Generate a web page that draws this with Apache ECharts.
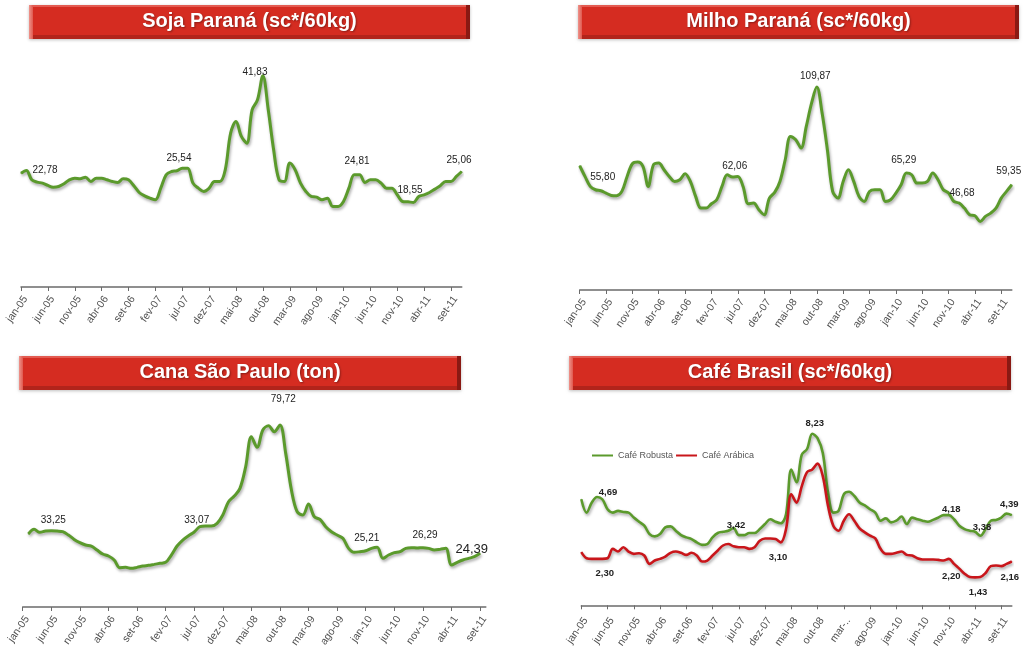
<!DOCTYPE html>
<html>
<head>
<meta charset="utf-8">
<script src="https://cdn.jsdelivr.net/npm/echarts@6/dist/echarts.min.js"></script>
<style>
html,body{margin:0;padding:0;background:#fff;}
#c{width:1026px;height:651px;}
</style>
</head>
<body>
<div id="c"></div>
<script>
const months = [
 'jan-05','fev-05','mar-05','abr-05','mai-05','jun-05','jul-05','ago-05','set-05','out-05','nov-05','dez-05',
 'jan-06','fev-06','mar-06','abr-06','mai-06','jun-06','jul-06','ago-06','set-06','out-06','nov-06','dez-06',
 'jan-07','fev-07','mar-07','abr-07','mai-07','jun-07','jul-07','ago-07','set-07','out-07','nov-07','dez-07',
 'jan-08','fev-08','mar-08','abr-08','mai-08','jun-08','jul-08','ago-08','set-08','out-08','nov-08','dez-08',
 'jan-09','fev-09','mar-09','abr-09','mai-09','jun-09','jul-09','ago-09','set-09','out-09','nov-09','dez-09',
 'jan-10','fev-10','mar-10','abr-10','mai-10','jun-10','jul-10','ago-10','set-10','out-10','nov-10','dez-10',
 'jan-11','fev-11','mar-11','abr-11','mai-11','jun-11','jul-11','ago-11','set-11','out-11','nov-11'
];
const canaMonths = months.slice(0, 82);

const sojaValues = [
 23.79,24.29,22.56,22.13,21.94,21.51,21.20,21.32,21.82,22.56,22.87,22.74,
 23.05,22.25,22.87,22.87,22.56,22.25,22.07,22.74,22.56,21.45,20.21,19.59,
 19.16,18.85,21.01,23.48,24.10,24.23,24.72,24.72,21.94,21.01,20.40,21.01,
 22.25,22.25,24.41,31.21,33.37,30.59,29.35,35.53,37.38,41.83,35.53,28.12,
 22.56,22.25,25.65,24.41,21.94,20.40,19.47,19.35,18.85,19.16,17.62,17.62,
 18.54,21.01,23.48,23.48,22.07,22.56,22.56,21.94,21.01,21.01,19.78,18.54,
 18.48,18.36,19.47,19.78,20.21,20.83,21.45,22.25,22.25,23.18,24.10
];
const milhoValues = [
 68.83,63.26,58.04,56.31,55.78,54.57,53.35,53.17,55.44,63.26,69.87,70.74,
 68.48,58.04,69.35,70.22,66.74,63.26,60.65,61.52,64.65,60.65,52.83,46.74,
 46.74,49.00,51.09,58.04,64.13,62.91,63.26,58.04,49.00,49.35,45.87,43.26,
 51.96,54.91,60.65,71.96,84.13,82.39,78.04,89.35,101.52,109.87,96.30,77.17,
 55.44,51.96,60.65,66.74,60.65,52.83,50.22,55.44,56.31,56.31,50.22,51.09,
 54.57,58.91,65.00,64.13,59.78,59.78,60.65,65.00,61.52,56.31,54.57,50.22,
 49.35,46.74,43.26,42.74,39.78,42.39,44.13,46.74,51.96,55.44,58.91
];
const canaValues = [
 null,32.33,34.36,33.05,33.63,33.78,33.63,33.34,31.89,30.00,28.56,27.55,
 27.11,25.37,23.63,22.76,21.03,17.69,17.84,17.40,17.84,18.42,18.71,19.14,
 19.58,20.01,23.20,27.11,29.72,31.60,33.20,35.52,35.81,35.81,36.97,40.59,
 46.39,48.85,52.19,61.60,74.65,70.01,77.55,79.40,76.82,79.72,67.40,51.46,
 42.04,40.59,45.37,39.86,38.71,35.52,33.34,31.89,30.45,26.10,24.36,24.65,
 25.08,26.10,26.53,21.75,23.20,24.22,24.65,26.10,26.39,26.24,26.39,26.10,
 25.37,25.66,26.10,18.85,20.01,21.03,21.75,22.47,23.92,null
];
const cafeRobusta = [
 5.09,4.45,4.93,5.20,5.09,4.61,4.45,4.53,4.48,4.45,4.21,4.01,
 3.82,3.42,3.31,3.42,3.74,3.79,3.58,3.37,3.26,3.18,3.02,2.90,
 2.94,3.26,3.47,3.53,3.58,3.71,3.37,3.37,3.47,3.47,3.66,3.90,
 4.13,4.01,3.94,4.37,6.52,5.91,7.23,7.50,8.23,8.02,7.31,5.40,
 4.45,4.53,5.33,5.45,5.25,4.93,4.80,4.61,4.45,4.06,4.17,3.98,
 4.06,4.26,3.90,4.21,4.13,4.06,4.01,4.10,4.21,4.33,4.33,4.13,
 3.82,3.66,3.58,3.53,3.34,3.66,4.06,4.10,4.21,4.40,4.33
];
const cafeArabica = [
 2.55,2.26,2.23,2.23,2.23,2.26,2.71,2.58,2.79,2.58,2.47,2.50,
 2.39,1.99,2.15,2.23,2.34,2.52,2.58,2.52,2.42,2.52,2.39,2.10,
 2.15,2.39,2.63,2.87,2.94,2.83,2.79,2.79,2.71,2.79,3.10,3.21,
 3.21,3.18,3.02,3.66,5.33,4.93,5.72,6.39,6.52,6.80,6.20,4.77,
 3.82,3.58,4.06,4.37,4.06,3.69,3.50,3.34,3.21,2.71,2.47,2.47,
 2.52,2.58,2.42,2.39,2.26,2.20,2.20,2.20,2.18,2.15,2.23,1.99,
 1.76,1.52,1.36,1.34,1.36,1.55,1.88,1.91,1.88,1.99,2.10
];

const sojaLabels = [{i:4,text:'22,78'},{i:29,text:'25,54'},{i:45,text:'41,83'},{i:62,text:'24,81'},{i:72,text:'18,55'},{i:82,text:'25,06'}];
const milhoLabels = [{i:4,text:'55,80'},{i:29,text:'62,06'},{i:45,text:'109,87'},{i:62,text:'65,29'},{i:72,text:'46,68'},{i:82,text:'59,35'}];
const canaLabels = [{i:5,text:'33,25'},{i:30,text:'33,07'},{i:45,text:'79,72'},{i:60,text:'25,21'},{i:70,text:'26,29'},{i:79,text:'24,39'}];
const robustaLabels = [{i:5,text:'4,69'},{i:29,text:'3,42'},{i:44,text:'8,23'},{i:70,text:'4,18'},{i:76,text:'3,38'},{i:82,text:'4,39'}];
const arabicaLabels = [{i:4,text:'2,30'},{i:37,text:'3,10'},{i:70,text:'2,20'},{i:75,text:'1,43'},{i:82,text:'2,16'}];

const titles = ['Soja Paraná (sc*/60kg)','Milho Paraná (sc*/60kg)','Cana São Paulo (ton)','Café Brasil (sc*/60kg)'];
const legendNames = ['Café Robusta','Café Arábica'];

// styling: label offsets (px) relative to the labelled point
const sojaOff = [[2.5,-7.2],[2.1,-6.8],[-7.9,2.2],[2.75,-7.8],[2,-6.5],[-2.75,-5.5]];
const milhoOff = [[1.9,-7.8],[2.2,-5.1],[-1.5,-5.1],[-2.7,-7.1],[2.9,-4.1],[-3.1,-7.8]];
const canaOff = [[2,-5.4],[2.5,-6.7],[3.3,-20],[1,-7.4],[2.1,-7],[-2.6,0]];
const robOff = [[0.5,-11.7],[2.4,2.4],[2.4,-5],[2.5,0.1],[1.7,-3],[-2.5,-4.9]];
const araOff = [[2.4,20.3],[2.45,23.6],[2.5,22.7],[2.95,20.6],[-2.1,20.95]];

const FONT = '"Liberation Sans", Arial, sans-serif';
const GREEN = '#5b9a2c';
const RED = '#c9161b';

function buildData(values, labels, offs, fontSize, bold) {
  const map = {};
  labels.forEach((l, k) => { map[l.i] = {text: l.text, off: offs[k]}; });
  return values.map((v, i) => {
    if (map[i]) {
      return {
        value: v,
        label: {
          show: true, position: 'top', distance: 0,
          formatter: map[i].text, offset: map[i].off,
          fontSize: (labels[labels.length-1].i === i && fontSize.last) ? fontSize.last : fontSize.base,
          fontFamily: FONT, color: '#222', fontWeight: bold ? 'bold' : 'normal'
        }
      };
    }
    return v;
  });
}

const grids = [
  {left: 21, top: 49.5, width: 440.75, height: 237.5},
  {left: 579.7, top: 48.5, width: 432.1, height: 241.5},
  {left: 22.7, top: 401.4, width: 463.1, height: 205.6},
  {left: 581.3, top: 407.35, width: 430.5, height: 202.65}
];
const yRanges = [[2.7, 46.7],[4, 130],[0.6, 90],[-0.15, 9.5]];

function xAxis(idx, data, fmt) {
  return {
    type: 'category', gridIndex: idx, data: data, boundaryGap: false,
    axisLine: {lineStyle: {color: '#6b6b6b', width: 1.5}},
    axisTick: {show: true, interval: 4, length: 4, lineStyle: {color: '#6b6b6b', width: 1}},
    axisLabel: {interval: 4, rotate: 55, fontSize: 10.5, color: '#505050', margin: 7, fontFamily: FONT,
      verticalAlign: 'top', formatter: fmt || (v => v)},
    splitLine: {show: false}
  };
}
function yAxis(idx) {
  return {type: 'value', gridIndex: idx, min: yRanges[idx][0], max: yRanges[idx][1], show: false, splitLine: {show: false}};
}

const lineShadow = {shadowColor: 'rgba(0,0,0,0.35)', shadowBlur: 3, shadowOffsetY: 2, shadowOffsetX: 1};

function lineSeries(name, idx, data, color, width) {
  return {
    name: name, type: 'line', xAxisIndex: idx, yAxisIndex: idx, data: data,
    smooth: 0.35, symbol: 'circle', symbolSize: 1, showSymbol: true, showAllSymbol: true,
    itemStyle: {color: color}, connectNulls: false,
    lineStyle: Object.assign({color: color, width: width}, lineShadow),
    emphasis: {disabled: true}, silent: true
  };
}

const bars = [
  {x: 29, y: 5, w: 441, h: 34},
  {x: 578, y: 5, w: 441, h: 34},
  {x: 19, y: 356, w: 442, h: 34},
  {x: 569, y: 356, w: 442, h: 34}
];
const graphics = [];
bars.forEach((b, k) => {
  graphics.push({
    type: 'group', left: b.x, top: b.y, silent: true,
    children: [
      {type: 'rect', shape: {x: 0, y: 0, width: b.w, height: b.h},
        style: {fill: '#d52c21', shadowColor: 'rgba(0,0,0,0.25)', shadowBlur: 3, shadowOffsetY: 1}},
      {type: 'rect', shape: {x: 0, y: 0, width: b.w, height: 2}, style: {fill: '#e35b51'}},
      {type: 'rect', shape: {x: 0, y: b.h - 4, width: b.w, height: 4}, style: {fill: '#b2241b'}},
      {type: 'rect', shape: {x: 0, y: 0, width: 4, height: b.h},
        style: {fill: {type: 'linear', x: 0, y: 0, x2: 1, y2: 0, colorStops: [{offset: 0, color: '#ee948c'}, {offset: 1, color: '#e0594f'}]}}},
      {type: 'rect', shape: {x: b.w - 4, y: 0, width: 4, height: b.h}, style: {fill: '#8a1913'}},
      {type: 'text', style: {x: b.w / 2, y: b.h / 2 - 1, text: titles[k], fill: '#ffffff',
        font: 'bold 20px ' + FONT, textAlign: 'center', textVerticalAlign: 'middle',
        textShadowColor: 'rgba(0,0,0,0.35)', textShadowBlur: 2, textShadowOffsetX: 1, textShadowOffsetY: 1}}
    ]
  });
});

const option = {
  animation: false,
  backgroundColor: '#ffffff',
  grid: grids,
  xAxis: [
    xAxis(0, months), xAxis(1, months), xAxis(2, canaMonths),
    xAxis(3, months, v => v === 'mar-09' ? 'mar-..' : v)
  ],
  yAxis: [yAxis(0), yAxis(1), yAxis(2), yAxis(3)],
  legend: {
    left: 587, top: 446, icon: 'rect', itemWidth: 21, itemHeight: 2, itemGap: 3,
    textStyle: {fontSize: 9, color: '#555', fontFamily: FONT},
    data: legendNames
  },
  graphic: graphics,
  series: [
    lineSeries('Soja', 0, buildData(sojaValues, sojaLabels, sojaOff, {base: 10}, false), GREEN, 3),
    lineSeries('Milho', 1, buildData(milhoValues, milhoLabels, milhoOff, {base: 10}, false), GREEN, 3),
    lineSeries('Cana', 2, buildData(canaValues, canaLabels, canaOff, {base: 10, last: 13}, false), GREEN, 3),
    lineSeries(legendNames[0], 3, buildData(cafeRobusta, robustaLabels, robOff, {base: 9.5}, true), GREEN, 2.6),
    lineSeries(legendNames[1], 3, buildData(cafeArabica, arabicaLabels, araOff, {base: 9.5}, true), RED, 2.6)
  ]
};

const chart = echarts.init(document.getElementById('c'), null, {renderer: 'canvas'});
chart.setOption(option);
</script>
</body>
</html>
